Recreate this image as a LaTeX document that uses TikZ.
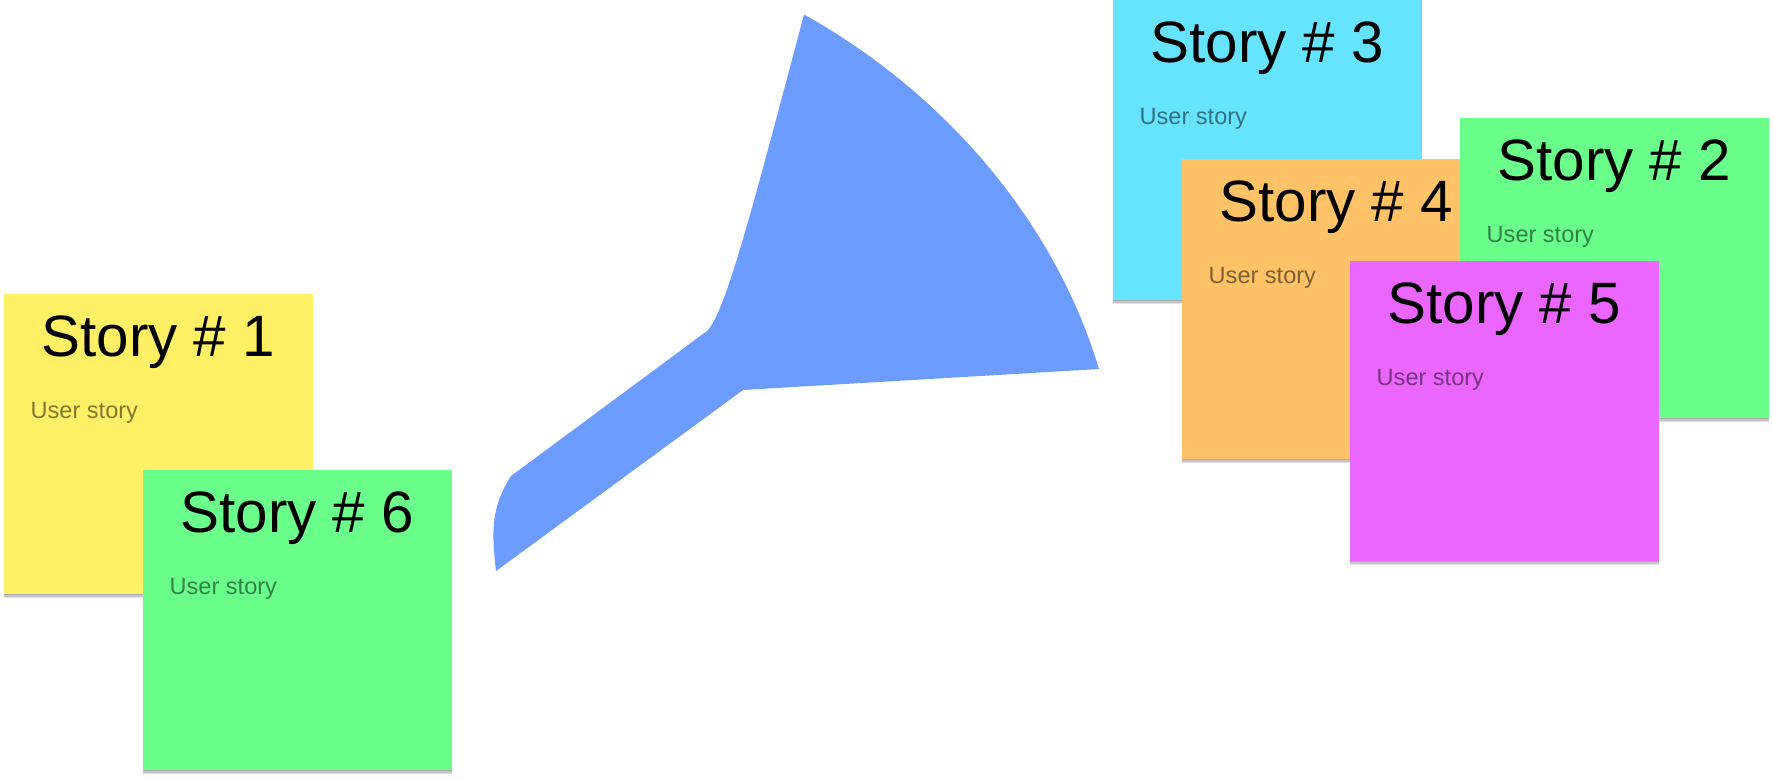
\documentclass[tikz,border=0pt]{standalone}
\usepackage{fontspec}
\setmainfont{Liberation Sans}
\usetikzlibrary{shadows}
\definecolor{noteyellow}{HTML}{FFF066}
\definecolor{notegreen}{HTML}{69FF8A}
\definecolor{notecyan}{HTML}{66E3FF}
\definecolor{noteorange}{HTML}{FFC266}
\definecolor{notepink}{HTML}{EB66FF}
\definecolor{funnelblue}{HTML}{6C9CFF}
\tikzset{
  softshadow/.style={drop shadow={shadow xshift=0pt, shadow yshift=#1, opacity=.12, fill=black}},
  storynote/.style={anchor=north west, inner sep=0pt, minimum width=3.09cm, minimum height=3cm,
    softshadow=-1.3pt, softshadow=-.9pt, softshadow=-.5pt},
  storytitle/.style={anchor=base, inner sep=0pt, text=black, font=\fontsize{16.6}{18}\selectfont},
  storybody/.style={anchor=base west, inner sep=0pt, text=black, text opacity=.5, font=\fontsize{6.7}{8}\selectfont}
}
\begin{document}
\begin{tikzpicture}
  \useasboundingbox (0,0) rectangle (17.73,7.78);

  % funnel
  \fill[funnelblue] (8.04,7.635) .. controls (9.36,6.9) and (10.52,5.65) .. (10.99,4.09)
    -- (7.43,3.88) -- (4.96,2.07)
    .. controls (4.91,2.5) and (4.92,2.72) .. (5.11,3.02)
    -- (7.07,4.47) .. controls (7.25,4.65) and (7.5,5.6) .. cycle;

  % notes
  \foreach \n/\x/\y/\c in {1/0.03/4.85/noteyellow, 6/1.42/3.09/notegreen,
      3/11.12/7.79/notecyan, 4/11.81/6.20/noteorange,
      2/14.59/6.61/notegreen, 5/13.49/5.18/notepink} {
    \node[storynote, fill=\c] (note\n) at (\x,\y) {};
    \node[storytitle] (title\n) at ([yshift=-.63cm]note\n.north) {Story \# \n};
    \node[storybody] (body\n) at ([xshift=.27cm,yshift=-1.25cm]note\n.north west) {User story};
  }
\end{tikzpicture}
\end{document}
